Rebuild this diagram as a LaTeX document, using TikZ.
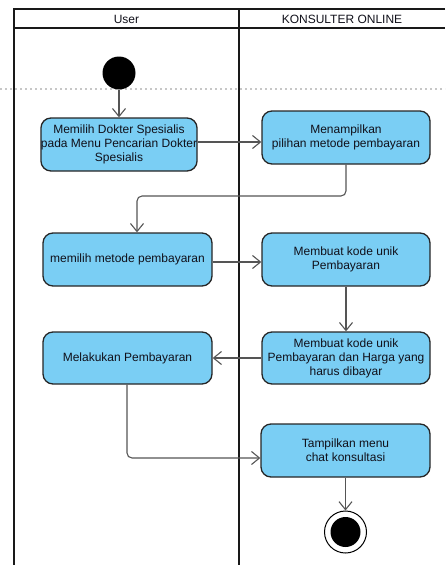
\documentclass[tikz,border=0pt]{standalone}
\usepackage{fontspec}
\setmainfont{Liberation Sans}
\usetikzlibrary{arrows.meta}
\definecolor{actfill}{HTML}{7ACEF4}
\definecolor{txt}{HTML}{10101A}
\definecolor{flowc}{HTML}{555555}
\begin{document}
\begin{tikzpicture}[x=1pt,y=-1pt,
  lane/.style={line width=2pt,draw=black!90},
  act/.style={draw=black!85,line width=1.3pt,fill=actfill,rounded corners=10pt,
    align=center,text=txt,font=\fontsize{12}{14}\selectfont,inner sep=0pt},
  flow/.style={draw=flowc,line width=1.1pt,rounded corners=5pt,
    -{Straight Barb[length=8pt,width=13pt,line width=1.1pt]}},
  hdr/.style={font=\fontsize{12}{14}\selectfont,text=txt,inner sep=0pt}]
\useasboundingbox (0,0) rectangle (445,565);

% dotted page guide
\draw[black!22,line width=1.5pt,dash pattern=on 2pt off 3pt] (0,89) -- (445,89);

% swimlanes
\draw[lane] (445,9) -- (14,9) -- (14,565);
\draw[lane] (14,28) -- (445,28);
\draw[lane] (239,9) -- (239,565);
\node[hdr] (huser) at (126.5,19) {User};
\node[hdr] (hsys) at (342,19) {KONSULTER ONLINE};

% start and end
\node[circle,fill=black,minimum size=33pt,inner sep=0pt] (start) at (119,73) {};
\node[circle,draw=black,line width=1pt,fill=white,minimum size=42pt,inner sep=0pt] (stop) at (345.5,532) {};
\node[circle,fill=black,minimum size=30pt,inner sep=0pt] (stopin) at (345.5,532) {};

% activities
\node[act,minimum width=154pt,minimum height=53pt] (a1) at (119,144.5)
  {Memilih Dokter Spesialis\\pada Menu Pencarian Dokter\\Spesialis};
\node[act,minimum width=168pt,minimum height=53pt] (a2) at (346,137.5)
  {Menampilkan\\pilihan metode pembayaran};
\node[act,minimum width=169pt,minimum height=53pt] (a3) at (127.5,259.5)
  {memilih metode pembayaran};
\node[act,minimum width=168pt,minimum height=53pt] (a4) at (346,259.5)
  {Membuat kode unik\\Pembayaran};
\node[act,minimum width=168pt,minimum height=52pt] (a5) at (346,358)
  {Membuat kode unik\\Pembayaran dan Harga yang\\harus dibayar};
\node[act,minimum width=169pt,minimum height=52pt] (a6) at (127.5,358)
  {Melakukan Pembayaran};
\node[act,minimum width=169pt,minimum height=53pt] (a7) at (345.5,450.5)
  {Tampilkan menu\\chat konsultasi};

% bend points
\coordinate (k1) at (137,196);
\coordinate (k2) at (127,458);

% flows
\draw[flow] (start) -- (a1);
\draw[flow] ([yshift=2.5pt]a1.east) -- ([yshift=-4.5pt]a2.west);
\draw[flow] (a2.south) |- (k1) -- (k1 |- a3.north);
\draw[flow] ([yshift=-2.5pt]a3.east) -- ([yshift=-2.5pt]a4.west);
\draw[flow] (a4.south) -- (a5.north);
\draw[flow] (a5.west) -- (a6.east);
\draw[flow] (k2 |- a6.south) -- (k2) -- (k2 -| a7.west);
\draw[flow] (a7.south) -- (stop.north);
\end{tikzpicture}
\end{document}
